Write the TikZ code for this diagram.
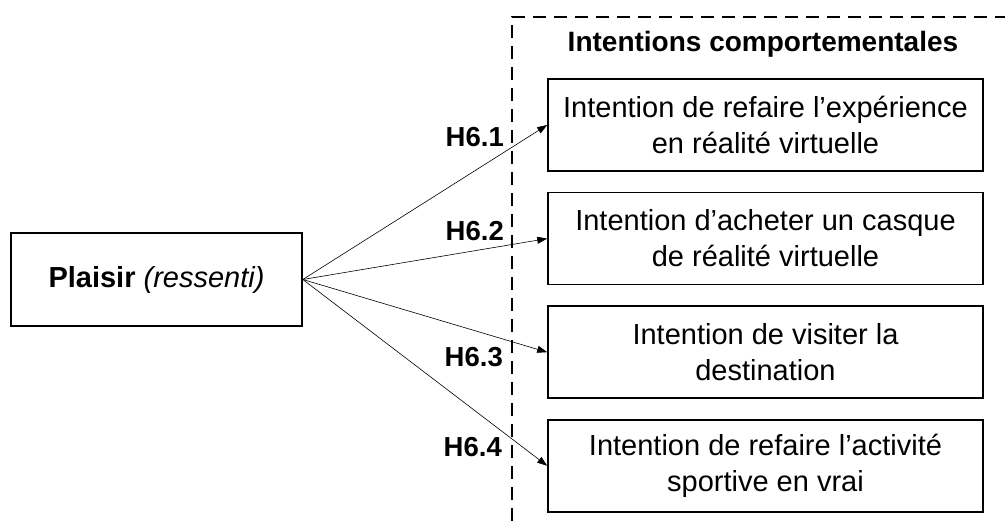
\documentclass[tikz,border=0pt]{standalone}
\usepackage{fontspec}
\setmainfont{Liberation Sans}
\usetikzlibrary{arrows.meta,positioning}

\begin{document}
\begin{tikzpicture}[x=1pt, y=-1pt,
    node distance = 20pt and 4mm,
       arr/.style = {semithick, -{Triangle[length=10pt,width=7pt]}},
       box/.style = {rectangle, draw, line width=1.6pt, inner sep=0pt,
                     align=center, font=\fontsize{29}{36}\selectfont},
    intent/.style = {box, minimum width=435pt, minimum height=92pt},
       hyp/.style = {anchor=east, inner sep=0pt,
                     font=\fontsize{27.5}{30}\bfseries},
     frame/.style = {dashed, line width=1.6pt,
                     dash pattern=on 13pt off 8pt},
                    ]
    \useasboundingbox (0,0) rectangle (1005,521);
    % group frame (cut by the border)
    \draw[frame] (512,521) |- (1005,17);
    \node[font=\fontsize{28}{30}\bfseries] (title) at (763,44)
        {Intentions comportementales};
    %
    \node[box, minimum width=291pt, minimum height=93pt] (plaisir) at (156.5,279.5)
        {\textbf{Plaisir} \textit{(ressenti)}};
    %
    \node[intent] (I1) at (765.5,125)
        {Intention de refaire l’expérience\\ en réalité virtuelle};
    \node[intent, below=of I1] (I2)
        {Intention d’acheter un casque\\ de réalité virtuelle};
    \node[intent, below=of I2] (I3)
        {Intention de visiter la\\ destination};
    \node[intent, below=of I3] (I4)
        {Intention de refaire l’activité\\ sportive en vrai};
    %% hypotheses
    \node[hyp] (h1) at (504,137) {H6.1};
    \node[hyp] (h2) at (504,231) {H6.2};
    \node[hyp] (h3) at (503,357) {H6.3};
    \node[hyp] (h4) at (502,447) {H6.4};
    %% arrows
    \draw[arr]  (plaisir.east) edge (I1.west)
                (plaisir.east) edge (I2.west)
                (plaisir.east) edge (I3.west)
                (plaisir.east)  to  (I4.west)
                ;
\end{tikzpicture}
\end{document}
